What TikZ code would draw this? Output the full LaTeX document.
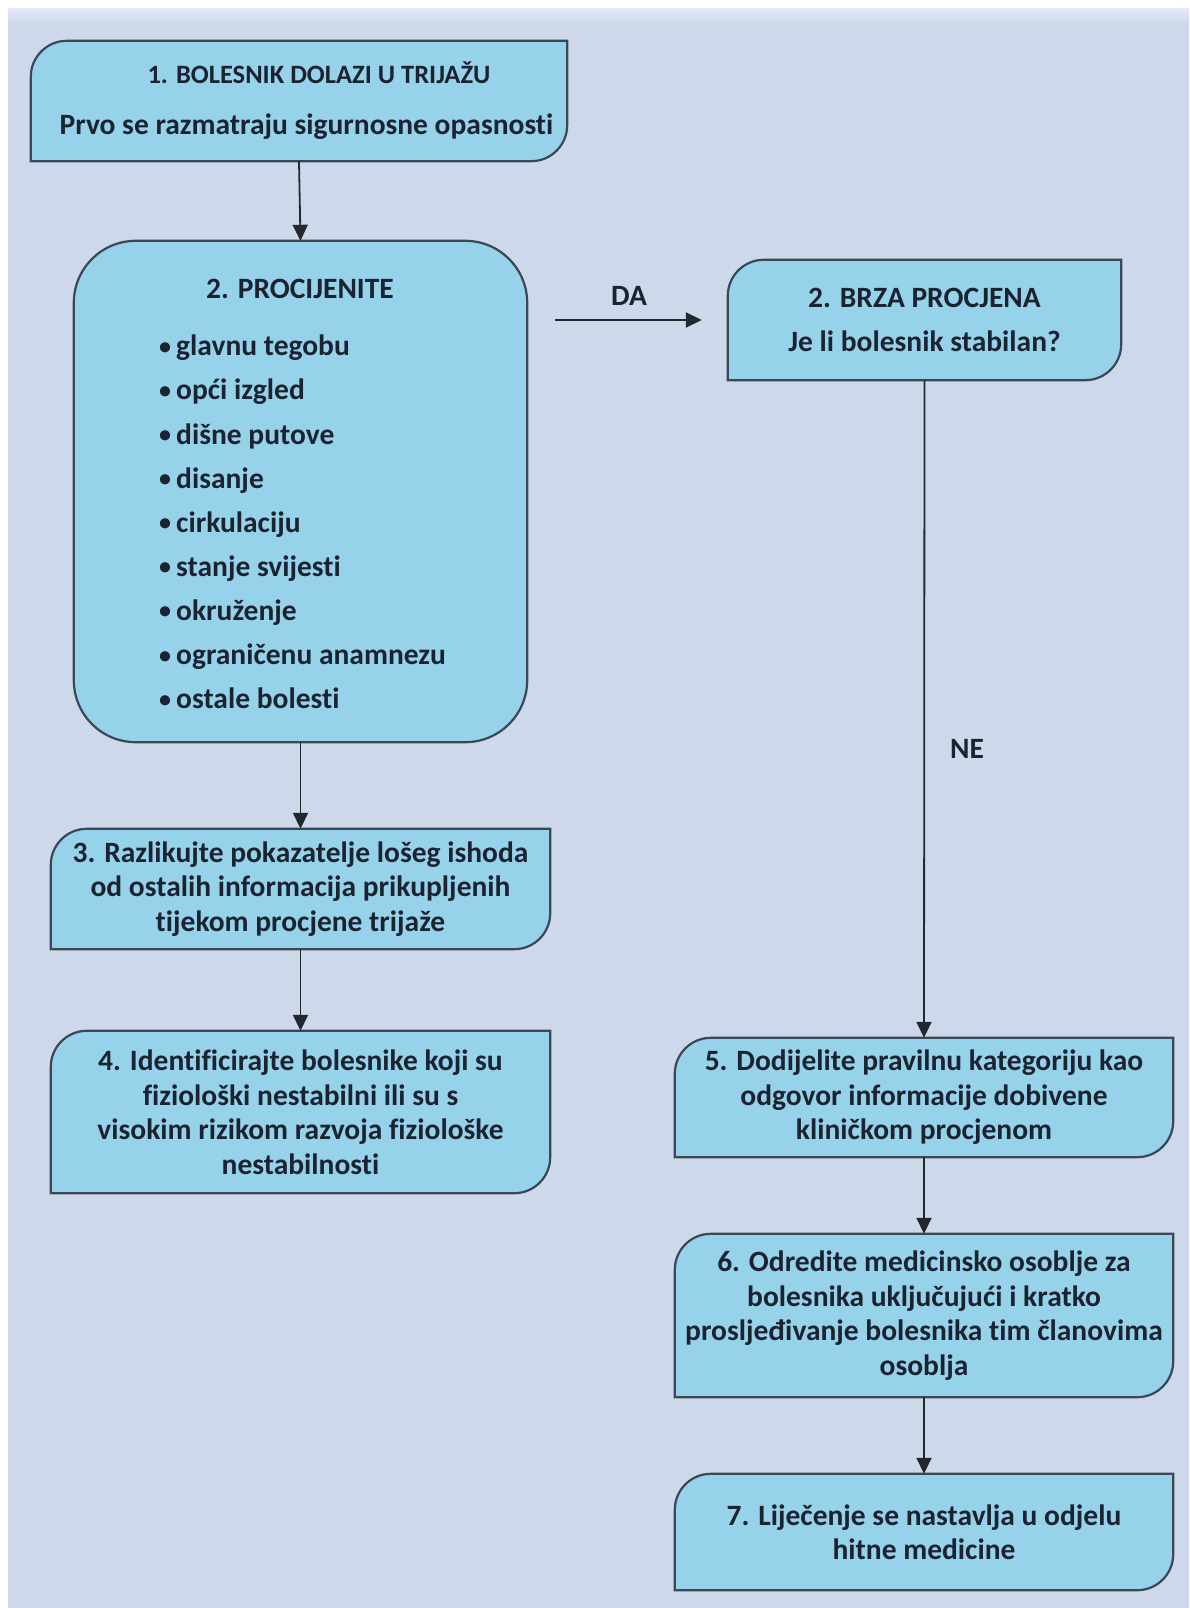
\documentclass[tikz,border=0pt]{standalone}
\usepackage{fontspec}
\setmainfont{Carlito}[Ligatures=NoCommon]
\usetikzlibrary{arrows.meta,backgrounds}
\definecolor{bgc}{HTML}{CDD9EA}
\definecolor{bandc}{HTML}{E3E9F7}
\definecolor{boxc}{HTML}{96D2EA}
\definecolor{edgec}{HTML}{3A4756}
\definecolor{txtc}{HTML}{1B2330}
\definecolor{arrc}{HTML}{23272E}
\tikzset{
  txt/.style={font=\fontsize{29.5}{34.5}\selectfont\bfseries, text=txtc, align=center, inner sep=0pt},
  listtxt/.style={font=\fontsize{29.5}{44.1}\selectfont\bfseries, text=txtc, align=left, inner sep=0pt},
  boxshape/.style={fill=boxc, draw=edgec, line width=2.2pt},
  arr/.style={draw=arrc, line width=1.8pt, -{Triangle[length=16pt,width=15pt]}},
}
\newcommand\bul{\makebox[17pt][l]{\fontsize{24}{24}\selectfont\raisebox{1.5pt}{•}}}
\newcommand\boxTLBR[2]{%
  \path[boxshape] ([yshift=-#2]#1.north west) arc[start angle=180,end angle=90,radius=#2]
    -- (#1.north east) -- ([yshift=#2]#1.south east)
    arc[start angle=0,end angle=-90,radius=#2] -- (#1.south west) -- cycle;}
\begin{document}
\begin{tikzpicture}[x=1pt,y=1pt]
\useasboundingbox (0,0) rectangle (1189,-1608);
% nodes (text)
\node[txt, minimum width=536pt, minimum height=120pt] (b1) at (299,-101)
  {\hspace*{40pt}{\fontsize{26.5}{34.5}\selectfont 1. BOLESNIK DOLAZI U TRIJAŽU}\\[16.5pt]\hspace*{15pt}Prvo se razmatraju sigurnosne opasnosti};
\node[txt, minimum width=453pt, minimum height=501pt] (b2) at (300.5,-491.5) {};
\node[txt] (b2title) at (300,-289) {2. PROCIJENITE};
\node[listtxt, anchor=west] (b2list) at (159,-522) {%
\bul glavnu tegobu\\
\bul opći izgled\\
\bul dišne putove\\
\bul disanje\\
\bul cirkulaciju\\
\bul stanje svijesti\\
\bul okruženje\\
\bul ograničenu anamnezu\\
\bul ostale bolesti};
\node[txt, minimum width=393pt, minimum height=120pt] (brza) at (924.5,-320)
  {2. BRZA PROCJENA\\[9.5pt]Je li bolesnik stabilan?};
\node[txt, minimum width=499pt, minimum height=120pt] (b3) at (300.5,-889)
  {3. Razlikujte pokazatelje lošeg ishoda\\od ostalih informacija prikupljenih\\tijekom procjene trijaže};
\node[txt, minimum width=499pt, minimum height=162pt] (b4) at (300.5,-1112)
  {4. Identificirajte bolesnike koji su\\fiziološki nestabilni ili su s\\visokim rizikom razvoja fiziološke\\nestabilnosti};
\node[txt, minimum width=498pt, minimum height=119pt] (b5) at (924,-1097.5)
  {5. Dodijelite pravilnu kategoriju kao\\odgovor informacije dobivene\\kliničkom procjenom};
\node[txt, minimum width=498pt, minimum height=163pt] (b6) at (924,-1315.5)
  {6. Odredite medicinsko osoblje za\\bolesnika uključujući i kratko\\prosljeđivanje bolesnika tim članovima\\osoblja};
\node[txt, minimum width=498pt, minimum height=116pt] (b7) at (924,-1532)
  {7. Liječenje se nastavlja u odjelu\\hitne medicine};
\node[txt] (da) at (629,-296) {DA};
\node[txt] (ne) at (967,-749) {NE};
\coordinate (dastart) at (555,-320);
% backgrounds and shapes
\begin{scope}[on background layer]
  \fill[white] (0,0) rectangle (1189,-1608);
  \fill[bgc] (8,-9) rectangle (1189,-1608);
  \shade[top color=bandc, bottom color=bgc] (8,-9) rectangle (1189,-24);
  \boxTLBR{b1}{36pt}
  \path[boxshape, rounded corners=62pt] (b2.north west) rectangle (b2.south east);
  \boxTLBR{brza}{36pt}
  \boxTLBR{b3}{36pt}
  \boxTLBR{b4}{36pt}
  \boxTLBR{b5}{36pt}
  \boxTLBR{b6}{36pt}
  \boxTLBR{b7}{36pt}
\end{scope}
% connectors
\draw[arr] (b1.south) -- (b2.north);
\draw[arr] (b2.south) -- (b3.north);
\draw[arr] (b3.south) -- (b4.north);
\draw[arr, shorten >=26pt] (dastart) -- (brza.west);
\draw[arr] (brza.south) -- (b5.north);
\draw[arr] (b5.south) -- (b6.north);
\draw[arr] (b6.south) -- (b7.north);
\end{tikzpicture}
\end{document}
